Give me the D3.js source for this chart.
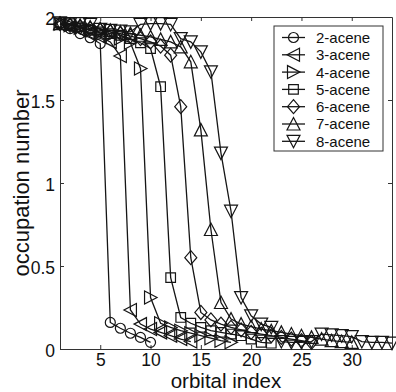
<!DOCTYPE html>
<html><head><meta charset="utf-8">
<script src="https://cdn.jsdelivr.net/npm/d3@7"></script>
<style>
body{margin:0;background:#fff}
svg{display:block}
text{font-family:"Liberation Sans",Arial,Helvetica,sans-serif;fill:#111}
</style>
</head><body>
<svg id="c" width="396" height="392"></svg>
<script>
// ---- data ----
const seriesNames = ["2-acene","3-acene","4-acene","5-acene","6-acene","7-acene","8-acene"];
const acene2 = [1.96,1.93,1.90,1.875,1.84,0.16,0.125,0.095,0.07,0.04];
const acene3 = [1.955,1.94,1.92,1.90,1.88,1.85,1.765,0.235,0.15,0.12,0.10,0.08,0.06,0.045];
const acene4 = [1.96,1.95,1.935,1.92,1.905,1.89,1.87,1.845,1.69,0.31,0.155,0.13,0.11,0.095,0.08,0.065,0.05,0.04];
const acene5 = [1.965,1.96,1.94,1.92,1.91,1.90,1.89,1.87,1.845,1.81,1.58,0.43,0.19,0.155,0.13,0.11,0.10,0.09,0.08,0.06,0.04,0.035];
const acene6 = [1.96,1.95,1.94,1.93,1.92,1.91,1.90,1.885,1.87,1.85,1.825,1.77,1.46,0.55,0.22,0.175,0.15,0.13,0.115,0.10,0.09,0.08,0.07,0.06,0.05,0.04];
const acene7 = [1.96,1.955,1.95,1.94,1.93,1.92,1.91,1.90,1.89,1.88,1.865,1.85,1.82,1.73,1.32,0.72,0.28,0.18,0.15,0.135,0.12,0.11,0.10,0.09,0.08,0.07,0.06,0.05,0.045,0.04];
const acene8 = [1.965,1.96,1.96,1.955,1.925,1.92,1.915,1.91,1.955,1.96,1.96,1.955,1.87,1.85,1.79,1.67,1.18,0.83,0.31,0.20,0.15,0.13,0.045,0.04,0.04,0.045,0.09,0.085,0.08,0.075,0.045,0.04,0.04,0.035];
const xTicks = [5,10,15,20,25,30];
const yTicks = [0,0.5,1,1.5,2];
const xDomain = [1,34];
const yDomain = [0,2];
const xLabel = "orbital index";
const yLabel = "occupation number";
const markerTypes = ["circle","left","right","square","diamond","up","down"];

const allSeries = [acene2,acene3,acene4,acene5,acene6,acene7,acene8];

// ---- layout ----
const L = 60, R = 392, T = 17, B = 349;
const svg = d3.select("#c");
const x = d3.scaleLinear().domain(xDomain).range([L,R]);
const y = d3.scaleLinear().domain(yDomain).range([B,T]);
const axisColor = "#333";
const lineColor = "#151515";

function mp(type){
  switch(type){
    case "circle": return "M5,0A5,5 0 1,1 -5,0A5,5 0 1,1 5,0Z";
    case "left": return "M-6.5,0L6,-6.5L6,6.5Z";
    case "right": return "M6.5,0L-6,-6.5L-6,6.5Z";
    case "up": return "M0,-6.5L-6.5,6L6.5,6Z";
    case "down": return "M0,6.5L-6.5,-6L6.5,-6Z";
    case "square": return "M-4.8,-4.8L4.8,-4.8L4.8,4.8L-4.8,4.8Z";
    case "diamond": return "M0,-7L6,0L0,7L-6,0Z";
  }
}

// ---- axes ----
const gx = svg.append("g").attr("transform",`translate(0,${B})`)
  .call(d3.axisBottom(x).tickValues(xTicks).tickSizeInner(-4).tickSizeOuter(0).tickPadding(5));
const gy = svg.append("g").attr("transform",`translate(${L},0)`)
  .call(d3.axisLeft(y).tickValues(yTicks).tickFormat(d3.format("~g")).tickSizeInner(-4).tickSizeOuter(0).tickPadding(5));
const gt = svg.append("g").attr("transform",`translate(0,${T})`)
  .call(d3.axisTop(x).tickValues(xTicks).tickFormat("").tickSizeInner(-4).tickSizeOuter(0));
const gr = svg.append("g").attr("transform",`translate(${R},0)`)
  .call(d3.axisRight(y).tickValues(yTicks).tickFormat("").tickSizeInner(-4).tickSizeOuter(0));
[gx,gy,gt,gr].forEach(g=>{
  g.selectAll("path.domain").attr("stroke",axisColor).attr("stroke-width",1);
  g.selectAll(".tick line").attr("stroke",axisColor).attr("stroke-width",1);
  g.selectAll(".tick text").attr("fill","#111").style("font-size","17.5px")
   .style("font-family",'"Liberation Sans",Arial,sans-serif');
});
gy.selectAll(".tick text").attr("dy","0.42em");

// axis labels
svg.append("text").attr("x",(L+R)/2).attr("y",388).attr("text-anchor","middle")
  .style("font-size","20.5px").text(xLabel);
svg.append("text").attr("transform",`translate(29,${(T+B)/2}) rotate(-90)`)
  .attr("text-anchor","middle").style("font-size","22px").text(yLabel);

// ---- series ----
const line = d3.line().x((d,i)=>x(i+1)).y(d=>y(d));
allSeries.forEach((vals,k)=>{
  const g = svg.append("g");
  g.append("path").datum(vals).attr("d",line).attr("fill","none")
    .attr("stroke",lineColor).attr("stroke-width",1.3);
  g.selectAll("path.m").data(vals).join("path").attr("class","m")
    .attr("d",mp(markerTypes[k]))
    .attr("transform",(d,i)=>`translate(${x(i+1)},${y(d)})`)
    .attr("fill","none").attr("stroke",lineColor).attr("stroke-width",1.2);
});

// ---- legend ----
const lg = svg.append("g");
lg.append("rect").attr("x",274).attr("y",26).attr("width",109).attr("height",125)
  .attr("fill","#fff").attr("stroke",axisColor).attr("stroke-width",1);
seriesNames.forEach((name,k)=>{
  const yy = 37.5 + k*17.3;
  lg.append("line").attr("x1",282).attr("x2",305).attr("y1",yy).attr("y2",yy)
    .attr("stroke",lineColor).attr("stroke-width",1.3);
  lg.append("path").attr("d",mp(markerTypes[k])).attr("transform",`translate(293.5,${yy})`)
    .attr("fill","none").attr("stroke",lineColor).attr("stroke-width",1.2);
  lg.append("text").attr("x",316).attr("y",yy).attr("dy","0.36em")
    .style("font-size","15px").text(name);
});
</script>
</body></html>
